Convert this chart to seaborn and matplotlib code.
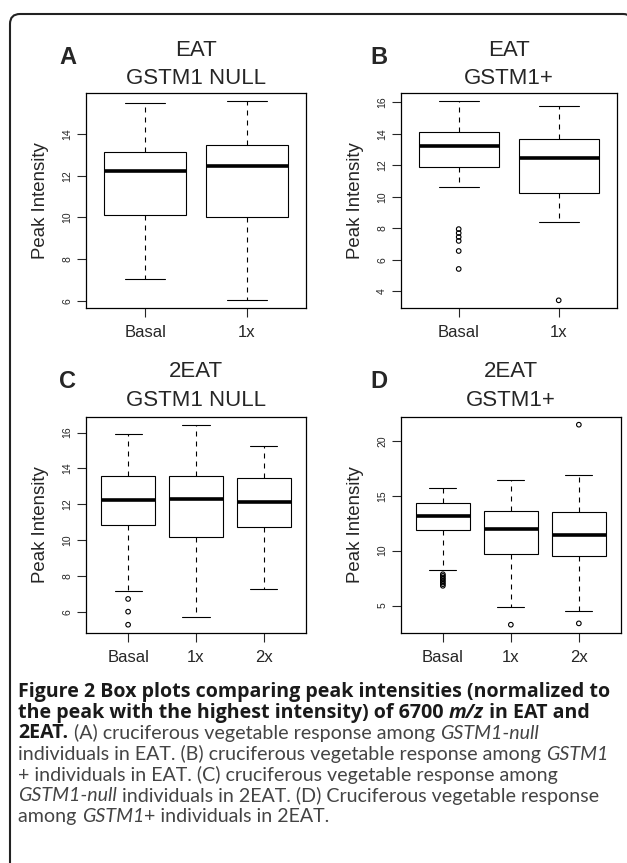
import numpy as np
import pandas as pd
import matplotlib
matplotlib.use("Agg")
import matplotlib.pyplot as plt
from matplotlib.patches import FancyBboxPatch
import seaborn as sns

# five-number summaries:
# lower whisker, Q1, median, Q3, upper whisker
groups_2 = ["Basal", "1x"]
groups_3 = ["Basal", "1x", "2x"]

a_basal = [7.05, 10.10, 12.25, 13.15, 15.48]
a_1x = [6.04, 10.02, 12.45, 13.49, 15.59]

b_basal = [10.61, 11.88, 13.24, 14.10, 16.10]
b_1x = [8.40, 10.26, 12.48, 13.64, 15.79]
b_out_basal = [7.95, 7.70, 7.45, 7.20, 6.56, 5.42]
b_out_1x = [3.43]

c_basal = [7.18, 10.83, 12.21, 13.59, 15.90]
c_1x = [5.72, 10.16, 12.31, 13.56, 16.41]
c_2x = [7.27, 10.72, 12.12, 13.44, 15.24]
c_out_basal = [6.71, 6.00, 5.27]

d_basal = [8.20, 11.86, 13.17, 14.36, 15.67]
d_1x = [4.91, 9.73, 12.01, 13.63, 16.43]
d_2x = [4.54, 9.54, 11.40, 13.51, 16.89]
d_out_basal = [7.85, 7.70, 7.55, 7.40, 7.25, 7.10, 6.95, 6.80]
d_out_1x = [3.26]
d_out_2x = [21.46, 3.38]

a_ticks = [6, 8, 10, 12, 14]
b_ticks = [4, 6, 8, 10, 12, 14, 16]
c_ticks = [6, 8, 10, 12, 14, 16]
d_ticks = [5, 10, 15, 20]

titles = [("A", "EAT", "GSTM1 NULL"), ("B", "EAT", "GSTM1+"),
          ("C", "2EAT", "GSTM1 NULL"), ("D", "2EAT", "GSTM1+")]

caption = [
    [("Figure 2 Box plots comparing peak intensities (normalized to", "b")],
    [("the peak with the highest intensity) of 6700 ", "b"), ("m/z", "bi"), (" in EAT and", "b")],
    [("2EAT.", "b"), (" (A) cruciferous vegetable response among ", "r"), ("GSTM1-null", "i")],
    [("individuals in EAT. (B) cruciferous vegetable response among ", "r"), ("GSTM1", "i")],
    [("+ individuals in EAT. (C) cruciferous vegetable response among", "r")],
    [("GSTM1-null", "i"), (" individuals in 2EAT. (D) Cruciferous vegetable response", "r")],
    [("among ", "r"), ("GSTM1", "i"), ("+ individuals in 2EAT.", "r")],
]

sns.set_style("ticks")
plt.rcParams["font.family"] = ["Liberation Sans", "DejaVu Sans"]

W, H = 627, 863
fig = plt.figure(figsize=(W / 100, H / 100), dpi=100)

bg = fig.add_axes([0, 0, 1, 1], zorder=-1)
bg.set_xlim(0, W)
bg.set_ylim(H, 0)
bg.axis("off")
bg.add_patch(FancyBboxPatch((10, 14), 623, 900, boxstyle="round,pad=0,rounding_size=10",
                            fc="white", ec="#222222", lw=1.5))

panels = [
    (groups_2, [a_basal, a_1x], [[], []], a_ticks, (86, 93, 306, 308)),
    (groups_2, [b_basal, b_1x], [b_out_basal, b_out_1x], b_ticks, (400.7, 92.7, 616.7, 308.3)),
    (groups_3, [c_basal, c_1x, c_2x], [c_out_basal, [], []], c_ticks, (86, 417.3, 306, 632.7)),
    (groups_3, [d_basal, d_1x, d_2x], [d_out_basal, d_out_1x, d_out_2x], d_ticks, (400.7, 416.7, 621, 632.7)),
]

for (groups, stats, outs, ticks, (x0, y0, x1, y1)), (letter, t1, t2) in zip(panels, titles):
    ax = fig.add_axes([x0 / W, 1 - y1 / H, (x1 - x0) / W, (y1 - y0) / H])
    df = pd.DataFrame({"group": np.repeat(groups, 5), "value": np.concatenate(stats)})
    sns.boxplot(data=df, x="group", y="value", order=groups, ax=ax, width=0.8,
                whis=(0, 100), showfliers=False, color="white", linecolor="black",
                linewidth=0.8, medianprops={"linewidth": 2.6, "solid_capstyle": "butt"},
                whiskerprops={"linestyle": (0, (4.5, 4.5))})
    odf = pd.DataFrame({"group": np.repeat(groups, [len(o) for o in outs]),
                        "value": np.concatenate([np.asarray(o, float) for o in outs])})
    if len(odf):
        sns.stripplot(data=odf, x="group", y="value", order=groups, ax=ax, jitter=False,
                      size=3.3, facecolor="none", edgecolor="black", linewidth=0.8)
    n = len(groups)
    allv = df["value"].tolist() + odf["value"].tolist()
    lo, hi = min(allv), max(allv)
    pad = 0.04 * (hi - lo)
    ax.set_ylim(lo - pad, hi + pad)
    ax.set_xlim(-0.5 - 0.04 * n, n - 0.5 + 0.04 * n)
    ax.set_yticks(ticks)
    ax.set_yticklabels([str(t) for t in ticks], rotation=90, va="center", fontsize=7.5)
    ax.tick_params(axis="y", length=6.2, width=0.8, pad=3.5)
    ax.tick_params(axis="x", length=6.2, width=0.8, pad=6, labelsize=12)
    for s in ax.spines.values():
        s.set_visible(True)
        s.set_linewidth(0.9)
        s.set_color("black")
    ax.set_xlabel("")
    ax.set_ylabel("Peak Intensity", fontsize=13.4)
    ax.yaxis.set_label_coords(((40.7 if x0 < 200 else 355.7) - x0) / (x1 - x0), 0.5)
    ax.yaxis.label.set_va("center")
    cx = (x0 + x1) / 2
    ty = 50 if y0 < 200 else 371.7
    bg.text(cx, ty, t1, ha="center", va="center", fontsize=16)
    bg.text(cx, ty + 28.3, t2, ha="center", va="center", fontsize=16)
    bg.text(68 if x0 < 200 else 378.5, 57 if y0 < 200 else 381.7, letter,
            ha="center", va="center", fontsize=17, fontweight="bold")

# caption, drawn run by run so bold / italic pieces sit on one line
bold_font = ["Open Sans", "DejaVu Sans"]
reg_font = ["Lato", "DejaVu Sans"]
styles = {"b": dict(fontweight="bold", color="#1a1a1a", family=bold_font),
          "bi": dict(fontweight="bold", fontstyle="italic", color="#1a1a1a", family=bold_font),
          "r": dict(color="#444444", family=reg_font),
          "i": dict(fontstyle="italic", color="#444444", family=reg_font)}
renderer = fig.canvas.get_renderer()


def run_width(line, size):
    w = 0
    for txt, st in line:
        t = bg.text(0, 0, txt, fontsize=size, **styles[st])
        w += t.get_window_extent(renderer).width
        t.remove()
    return w


bold_size = 10 * 593 / run_width(caption[0], 10)
reg_size = 10 * 592 / run_width(caption[3], 10)
sizes = {"b": bold_size, "bi": bold_size, "r": reg_size, "i": reg_size}

for i, line in enumerate(caption):
    x = 18.5
    y = 692 + i * 20.7
    for txt, st in line:
        t = bg.text(x, y, txt, ha="left", va="center", fontsize=sizes[st], **styles[st])
        x += t.get_window_extent(renderer).width

fig.savefig("out.png", dpi=100)
